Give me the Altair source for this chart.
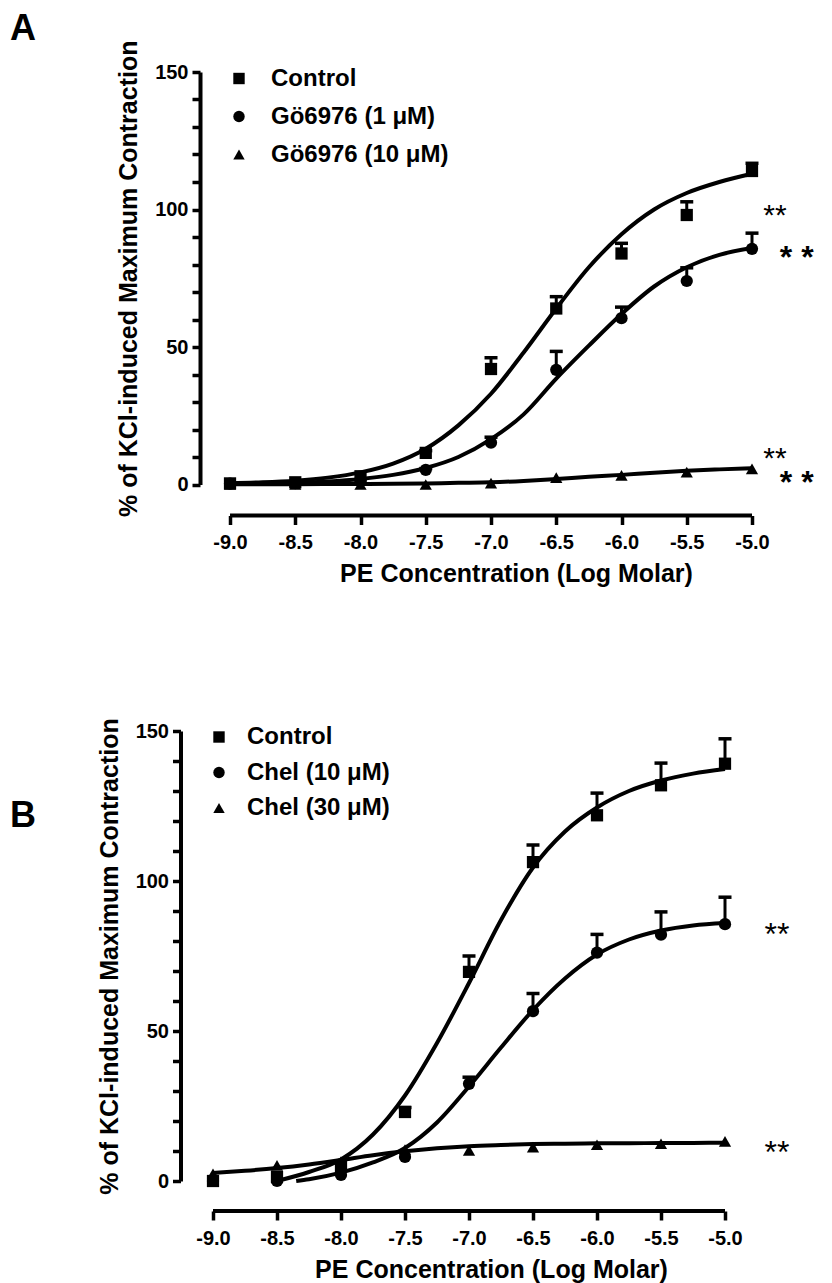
import altair as alt
import pandas as pd

FONT = "Liberation Sans"

# ---------------- shared axis values ----------------
x_ticks = [-9.0, -8.5, -8.0, -7.5, -7.0, -6.5, -6.0, -5.5, -5.0]
y_ticks = [0, 10, 20, 30, 40, 50, 60, 70, 80, 90, 100, 110, 120, 130, 140, 150]
fit_x = [-9.0, -8.75, -8.5, -8.25, -8.0, -7.75, -7.5, -7.25, -7.0,
         -6.75, -6.5, -6.25, -6.0, -5.75, -5.5, -5.25, -5.0]

# ---------------- Panel A ----------------
a_series = ["Control", "Gö6976 (1 μM)", "Gö6976 (10 μM)"]
a_control = [0.4, 0.8, 3.0, 11.5, 42.0, 64.0, 84.0, 98.0, 114.0]
a_control_sem = [0, 0, 0, 0.8, 4.1, 4.3, 3.7, 4.8, 2.8]
a_go1 = [0.3, 0.5, 1.5, 5.3, 15.2, 41.7, 60.5, 74.0, 85.7]
a_go1_sem = [0, 0, 0, 0.5, 2.0, 6.7, 4.0, 4.8, 5.7]
a_go10 = [0.0, 0.0, 0.0, 0.0, 0.5, 2.5, 3.3, 4.5, 5.7]
a_go10_sem = [0, 0, 0, 0, 0, 0, 0, 0, 0]
a_control_fit = [0.5, 0.8, 1.4, 2.5, 4.4, 7.6, 13.0, 21.5, 33.0,
                 48.0, 64.0, 79.0, 91.0, 100.0, 106.0, 110.0, 113.0]
a_go1_fit = [0.2, 0.35, 0.6, 1.1, 2.0, 3.5, 6.0, 10.0, 16.5,
             25.5, 38.5, 50.5, 62.0, 72.0, 79.0, 83.5, 86.0]
a_go10_fit = [0.1, 0.1, 0.1, 0.15, 0.2, 0.3, 0.4, 0.6, 0.8,
              1.3, 2.0, 2.8, 3.5, 4.3, 5.0, 5.5, 5.9]
a_star1_x = [-4.824, -4.824]
a_star1_y = [100.5, 12.2]
a_star1_t = ["**", "**"]
a_star2_x = [-4.657, -4.657]
a_star2_y = [85.3, 3.5]
a_star2_t = ["* *", "* *"]

# ---------------- Panel B ----------------
b_series = ["Control", "Chel (10 μM)", "Chel (30 μM)"]
b_control = [0.0, 1.3, 5.0, 23.0, 69.7, 106.3, 121.9, 131.9, 139.1]
b_control_sem = [0, 0, 0, 1.5, 5.3, 5.7, 7.4, 7.4, 8.3]
b_chel10 = [0.0, 0.0, 2.0, 8.0, 32.4, 56.6, 76.1, 82.1, 85.6]
b_chel10_sem = [0, 0, 0, 0, 2.2, 5.9, 6.1, 7.6, 9.0]
b_chel30 = [2.4, 5.2, 6.5, 10.5, 10.2, 11.3, 12.1, 12.4, 13.2]
b_chel30_sem = [0, 0, 0, 0, 0, 0, 0, 0, 0]
b_control_fit_x = [-8.5, -8.25, -8.0, -7.75, -7.5, -7.25, -7.0, -6.75,
                   -6.5, -6.25, -6.0, -5.75, -5.5, -5.25, -5.0]
b_control_fit = [0.0, 3.0, 7.2, 15.5, 28.5, 46.0, 66.0, 87.0,
                 104.5, 116.5, 124.5, 130.0, 133.5, 135.8, 137.3]
b_chel10_fit_x = [-8.35, -8.25, -8.0, -7.75, -7.5, -7.25, -7.0, -6.75,
                  -6.5, -6.25, -6.0, -5.75, -5.5, -5.25, -5.0]
b_chel10_fit = [0.0, 0.6, 2.8, 6.2, 11.0, 19.5, 31.5, 44.5,
                57.0, 67.5, 75.5, 80.5, 83.5, 85.2, 86.0]
b_chel30_fit = [2.7, 3.4, 4.3, 5.5, 7.0, 8.6, 9.9, 10.9, 11.6,
                12.0, 12.3, 12.45, 12.55, 12.6, 12.65, 12.7, 12.75]
b_star1_x = [-4.594, -4.594]
b_star1_y = [84.7, 12.0]
b_star1_t = ["**", "**"]

Y_TITLE = "% of KCl-induced Maximum Contraction"
X_TITLE = "PE Concentration (Log Molar)"


def frames(series, means, sems, fits):
    pts, errs, lines = [], [], []
    for s, m, e in zip(series, means, sems):
        for xv, yv, ev in zip(x_ticks, m, e):
            pts.append({"x": xv, "y": yv, "series": s})
            if ev > 0:
                errs.append({"x": xv, "y": yv, "top": yv + ev, "series": s})
    for s, (fx, fy) in zip(series, fits):
        for xv, yv in zip(fx, fy):
            lines.append({"x": xv, "y": yv, "series": s})
    return pd.DataFrame(pts), pd.DataFrame(errs), pd.DataFrame(lines)


def panel(series, means, sems, fits, stars, label, cfg):
    pts, errs, lines = frames(series, means, sems, fits)
    xs = alt.Scale(domain=cfg["xdom"], nice=False, zero=False)
    ys = alt.Scale(domain=[0, 150], nice=False, zero=False)
    xaxis = alt.Axis(
        values=x_ticks,
        labelExpr="replace(format(datum.value, '.1f'), '\u2212', '-')",
        domain=False, tickSize=9, tickWidth=3.5, tickColor="black",
        labelPadding=8, labelFontSize=20, labelFontWeight="bold",
        labelFont=FONT, labelColor="black", labelFlush=False, labelOverlap=False,
        offset=cfg["xoff"], grid=False,
        title=X_TITLE, titleFontSize=25, titleFontWeight="bold", titleFont=FONT,
        titleColor="black", titlePadding=9, titleX=cfg["titlex"],
    )
    yaxis = alt.Axis(
        values=y_ticks,
        labelExpr="datum.value % 50 === 0 ? datum.label : ''",
        domain=True, domainWidth=4, domainColor="black",
        tickSize=8, tickWidth=3.5, tickColor="black",
        labelPadding=4, labelFontSize=20, labelFontWeight="bold",
        labelFont=FONT, labelColor="black", labelOverlap=False,
        offset=cfg["yoff"], grid=False,
        title=Y_TITLE, titleFontSize=25, titleFontWeight="bold", titleFont=FONT,
        titleColor="black", titlePadding=13,
    )
    X = alt.X("x:Q", scale=xs, axis=xaxis)
    Y = alt.Y("y:Q", scale=ys, axis=yaxis)

    curves = alt.Chart(lines).mark_line(
        color="black", strokeWidth=4, interpolate="monotone"
    ).encode(x=X, y=Y, detail="series:N")

    err_rule = alt.Chart(errs).mark_rule(color="black", strokeWidth=3).encode(
        x=X, y=Y, y2="top:Q")
    err_cap = alt.Chart(errs).mark_tick(
        color="black", thickness=3.5, size=13, orient="horizontal", opacity=1
    ).encode(x=X, y=alt.Y("top:Q", scale=ys, axis=yaxis))

    points = alt.Chart(pts).mark_point(
        filled=True, color="black", opacity=1, size=150
    ).encode(
        x=X, y=Y,
        shape=alt.Shape(
            "series:N",
            scale=alt.Scale(domain=series, range=["square", "circle", "triangle-up"]),
            legend=alt.Legend(
                orient="none", legendX=cfg["legx"], legendY=cfg["legy"],
                title=None, labelFontSize=24, labelFontWeight="bold",
                labelFont=FONT, labelColor="black", symbolSize=130,
                symbolFillColor="black", symbolStrokeColor="black",
                symbolStrokeWidth=0, rowPadding=cfg["rowpad"],
                labelOffset=cfg["laboff"], padding=0, labelLimit=400,
            ),
        ),
    )

    axis_line = alt.Chart(
        pd.DataFrame({"x": [x_ticks[0]], "x2": [x_ticks[-1]]})
    ).mark_rule(color="black", strokeWidth=4).encode(
        x=X, x2="x2:Q", y=alt.value(cfg["h"] + cfg["xoff"]))

    layers = [curves, err_rule, err_cap, points, axis_line]
    for sx, sy, st, style in stars:
        sdf = pd.DataFrame({"x": sx, "y": sy, "t": st})
        layers.append(alt.Chart(sdf).mark_text(
            font=FONT, color="black", dy=8, **style
        ).encode(x=X, y=Y, text="t:N"))

    lab = alt.Chart(pd.DataFrame({"t": [label]})).mark_text(
        font=FONT, fontSize=36, fontWeight="bold", align="left",
        baseline="alphabetic", color="black"
    ).encode(text="t:N", x=alt.value(-203), y=alt.value(cfg["laby"]))
    layers.append(lab)

    return alt.layer(*layers).properties(
        width=cfg["w"], height=cfg["h"],
        view=alt.ViewBackground(stroke="transparent", strokeWidth=0),
    )


panel_a = panel(
    a_series,
    [a_control, a_go1, a_go10],
    [a_control_sem, a_go1_sem, a_go10_sem],
    [(fit_x, a_control_fit), (fit_x, a_go1_fit), (fit_x, a_go10_fit)],
    [
        (a_star1_x, a_star1_y, a_star1_t, {"fontSize": 30, "fontWeight": "normal"}),
        (a_star2_x, a_star2_y, a_star2_t, {"fontSize": 32, "fontWeight": "bold"}),
    ],
    "A",
    dict(xdom=[-9.1304, -5.0], w=539, h=412.5, xoff=31, yoff=13,
         titlex=303, legx=14, legy=-5.5, rowpad=14, laboff=20, laby=-32.5),
)

panel_b = panel(
    b_series,
    [b_control, b_chel10, b_chel30],
    [b_control_sem, b_chel10_sem, b_chel30_sem],
    [(b_control_fit_x, b_control_fit), (b_chel10_fit_x, b_chel10_fit),
     (fit_x, b_chel30_fit)],
    [
        (b_star1_x, b_star1_y, b_star1_t, {"fontSize": 32, "fontWeight": "normal"}),
    ],
    "B",
    dict(xdom=[-9.0, -5.0], w=512, h=450, xoff=30, yoff=32.5,
         titlex=278, legx=-6, legy=-6, rowpad=11.5, laboff=16, laby=96),
)

chart = alt.vconcat(panel_a, panel_b, spacing=130).resolve_scale(
    x="independent", y="independent", shape="independent"
).resolve_legend(shape="independent").properties(
    padding={"left": 2, "top": 2, "right": 5, "bottom": 2}
).configure(
    font=FONT, background="white",
    view=alt.ViewConfig(stroke="transparent", strokeWidth=0),
)

chart.save("out.html", embed_options={"renderer": "svg", "actions": False})
